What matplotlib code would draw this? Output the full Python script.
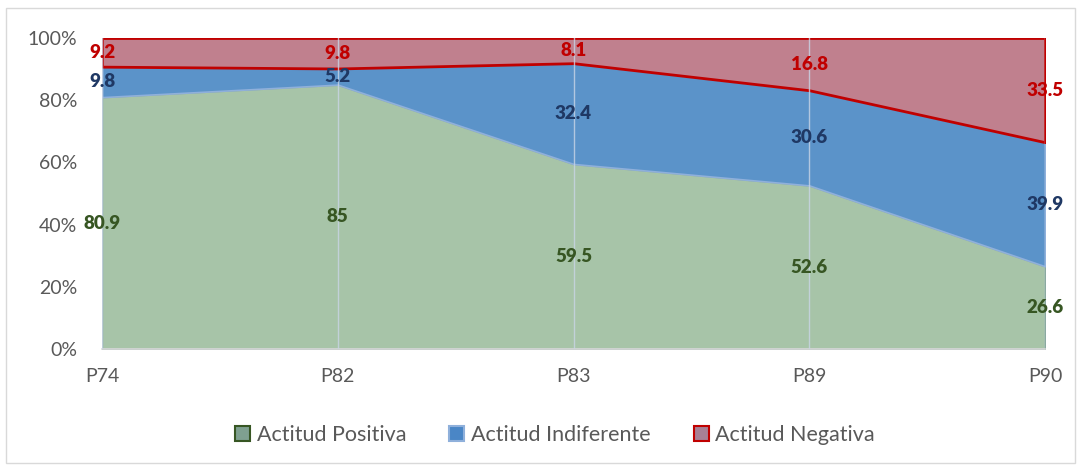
import matplotlib
matplotlib.use("Agg")
import matplotlib.pyplot as plt
from matplotlib.patches import Rectangle
import numpy as np

categories = ["P74", "P82", "P83", "P89", "P90"]
positiva = [80.9, 85, 59.5, 52.6, 26.6]
indiferente = [9.8, 5.2, 32.4, 30.6, 39.9]
negativa = [9.2, 9.8, 8.1, 16.8, 33.5]
series_names = ["Actitud Positiva", "Actitud Indiferente", "Actitud Negativa"]

plt.rcParams['font.family'] = ['Lato', 'DejaVu Sans']

fig = plt.figure(figsize=(10.8, 4.69), dpi=100)
fig.patches.append(Rectangle((0.006, 0.012), 0.989, 0.97, transform=fig.transFigure,
                             fill=False, edgecolor='#d9d9d9', lw=1))
ax = fig.add_axes([102/1080, 1-349/469, (1045-102)/1080, (349-38)/469])

x = np.arange(len(categories))
data = np.array([positiva, indiferente, negativa], dtype=float)
pct = data / data.sum(axis=0) * 100
b0 = np.zeros(len(x))
b1 = pct[0]
b2 = pct[0] + pct[1]
b3 = b2 + pct[2]

ax.fill_between(x, b0, b1, facecolor='#a7c4a8', edgecolor='#8aa9a0', lw=1.2, zorder=2)
ax.fill_between(x, b1, b2, facecolor='#5b93c9', edgecolor='#8fb0db', lw=1.2, zorder=2)
ax.fill_between(x, b2, b3, facecolor='#c0808e', edgecolor='#c00000', lw=2, zorder=3)

for xi in x:
    ax.axvline(xi, color='#c9d5e6', lw=1, zorder=4, alpha=0.8)

label_colors = ['#375623', '#1f3864', '#c00000']
bottoms = [b0, b1, b2]
for s in range(3):
    for i in range(len(x)):
        v = data[s][i]
        txt = f"{v:g}"
        ax.text(x[i], bottoms[s][i] + pct[s][i] / 2, txt, ha='center', va='center',
                color=label_colors[s], fontsize=13.5, fontweight='heavy', zorder=5)

ax.set_xlim(0, len(x) - 1)
ax.set_ylim(0, 100)
ax.set_yticks([0, 20, 40, 60, 80, 100])
ax.set_yticklabels([f"{t}%" for t in [0, 20, 40, 60, 80, 100]])
ax.set_xticks(x)
ax.set_xticklabels(categories)
ax.tick_params(axis='both', length=0, colors='#595959', labelsize=14)
ax.tick_params(axis='x', pad=14)
ax.tick_params(axis='y', pad=18)
for sp in ['top', 'right', 'left']:
    ax.spines[sp].set_visible(False)
ax.spines['bottom'].set_color('#d9d9d9')
ax.spines['bottom'].set_linewidth(1.2)

handles = [
    Rectangle((0, 0), 1, 1, facecolor='#7fa090', edgecolor='#375623', lw=1.5),
    Rectangle((0, 0), 1, 1, facecolor='#4a86c6', edgecolor='#8fb0db', lw=1.5),
    Rectangle((0, 0), 1, 1, facecolor='#a88095', edgecolor='#c00000', lw=1.5),
]
leg = fig.legend(handles, series_names, loc='center', bbox_to_anchor=(555/1080, 1-435/469),
                 ncol=3, frameon=False, fontsize=15.5, handlelength=0.7, handleheight=0.7,
                 handletextpad=0.3, columnspacing=2.0)
for t in leg.get_texts():
    t.set_color('#595959')

fig.savefig("out.png", dpi=100)
